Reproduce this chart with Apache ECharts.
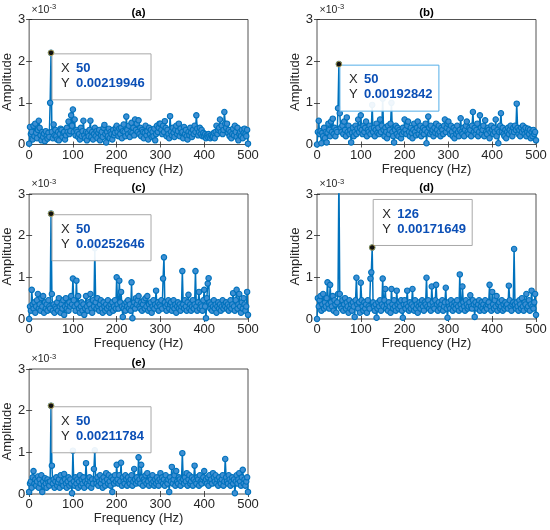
<!DOCTYPE html>
<html><head><meta charset="utf-8">
<script src="https://cdn.jsdelivr.net/npm/echarts@6/dist/echarts.min.js"></script>
<style>html,body{margin:0;padding:0;background:#fff}#c{width:550px;height:530px}</style>
</head><body><div id="c"></div>
<script>
// ---------------- DATA ----------------
const freqStepHz = 2;           // spectrum resolution, points at 0,2,4,...,500 Hz
const xTicks = [0, 100, 200, 300, 400, 500];
const yTicks = [0, 1, 2, 3];    // in units of 1e-3
const panelTitles = ['(a)', '(b)', '(c)', '(d)', '(e)'];
const xAxisName = 'Frequency (Hz)';
const yAxisName = 'Amplitude';

// amplitudes in units of 1e-3
const ampA = [
0.02,0.42,0.25,0.30,0.12,0.45,0.20,0.50,0.28,0.15,0.35,0.57,0.40,0.22,0.10,0.30,0.18,0.26,0.08,0.32,0.20,0.14,0.28,0.18,1.00,
2.20,0.30,0.15,0.48,0.22,0.35,0.20,0.12,0.30,0.10,0.25,0.38,0.35,0.18,0.28,0.30,0.12,0.22,0.40,0.30,0.55,0.25,0.32,0.70,0.45,
0.84,0.30,0.60,0.22,0.35,0.30,0.18,0.25,0.12,0.40,0.20,0.32,0.57,0.22,0.15,0.30,0.10,0.28,0.20,0.35,0.57,0.18,0.30,0.12,0.25,
0.40,0.20,0.32,0.15,0.28,0.35,0.10,0.22,0.30,0.18,0.40,0.47,0.25,0.05,0.30,0.20,0.38,0.15,0.30,0.25,0.12,0.35,0.22,0.28,0.40,
0.45,0.30,0.20,0.38,0.25,0.40,0.15,0.32,0.48,0.30,0.20,0.67,0.35,0.25,0.45,0.18,0.30,0.52,0.28,0.40,0.22,0.60,0.35,0.50,0.30,
0.58,0.25,0.40,0.20,0.35,0.30,0.15,0.28,0.45,0.22,0.32,0.12,0.40,0.25,0.35,0.18,0.30,0.20,0.38,0.10,0.25,0.45,0.30,0.40,0.50,
0.50,0.35,0.25,0.45,0.30,0.56,0.40,0.20,0.35,0.25,0.15,0.68,0.30,0.22,0.40,0.28,0.18,0.35,0.45,0.25,0.32,0.50,0.20,0.38,0.28,
0.30,0.15,0.42,0.25,0.35,0.20,0.12,0.30,0.22,0.40,0.28,0.18,0.35,0.25,0.45,0.30,0.70,0.38,0.22,0.30,0.40,0.25,0.35,0.20,0.28,
0.20,0.25,0.15,0.22,0.18,0.25,0.20,0.15,0.22,0.18,0.20,0.28,0.15,0.30,0.45,0.25,0.35,0.40,0.60,0.30,0.45,0.25,0.35,0.78,0.50,
0.40,0.50,0.28,0.35,0.20,0.30,0.15,0.25,0.38,0.22,0.45,0.30,0.18,0.40,0.10,0.25,0.30,0.20,0.35,0.15,0.28,0.38,0.25,0.20,0.35,
0.02];
const ampB = [
0.00,0.30,0.57,0.25,0.32,0.03,0.28,0.20,0.40,0.15,0.30,0.05,0.28,0.50,0.35,0.20,0.55,0.30,0.62,0.25,0.40,0.20,0.35,0.30,0.87,
1.93,0.75,0.40,0.30,0.45,0.25,0.55,0.35,0.20,0.65,0.30,0.45,0.25,0.35,0.05,0.28,0.40,0.20,0.30,0.45,0.25,0.38,0.60,0.30,0.40,
0.70,0.35,0.25,0.45,0.30,0.40,0.55,0.20,0.35,0.30,0.45,0.25,0.38,0.95,0.30,0.40,0.20,0.35,0.50,0.28,0.40,0.25,0.60,0.30,0.45,
1.10,0.35,0.20,0.40,0.30,0.15,0.45,0.25,0.35,0.50,1.00,0.30,0.20,0.05,0.35,0.45,0.25,0.40,0.20,0.35,0.30,0.15,0.25,0.40,0.30,
0.60,0.35,0.25,0.45,0.55,0.30,0.20,0.40,0.28,0.15,0.35,0.50,0.30,0.22,0.40,0.55,0.25,0.35,0.45,0.20,0.30,0.40,0.25,0.35,0.50,
0.03,0.30,0.67,0.40,0.25,0.45,0.30,0.35,0.20,0.40,0.28,0.50,0.35,0.25,0.45,0.30,0.20,0.40,0.35,0.25,0.45,0.60,0.30,0.40,0.50,
0.55,0.35,0.25,0.45,0.30,0.20,0.40,0.15,0.35,0.25,0.45,0.30,0.20,0.35,0.63,0.30,0.25,0.40,0.20,0.35,0.45,0.55,0.30,0.25,0.40,
0.35,0.20,0.45,0.78,0.30,0.40,0.25,0.35,0.50,0.20,0.30,0.70,0.40,0.25,0.35,0.45,0.20,0.58,0.30,0.25,0.40,0.35,0.15,0.30,0.45,
0.35,0.25,0.40,0.30,0.60,0.20,0.35,0.03,0.30,0.45,0.75,0.30,0.40,0.25,0.20,0.35,0.15,0.30,0.40,0.25,0.35,0.45,0.30,0.20,0.40,
0.30,0.45,0.35,0.98,0.40,0.25,0.35,0.20,0.40,0.30,0.45,0.35,0.25,0.40,0.20,0.30,0.38,0.25,0.35,0.15,0.30,0.20,0.35,0.25,0.30,
0.10];
const ampC = [
0.00,0.30,0.20,0.70,0.35,0.25,0.40,0.15,0.30,0.45,0.60,0.25,0.35,0.20,0.50,0.30,0.55,0.15,0.40,0.25,0.35,0.20,0.45,0.30,0.25,
2.53,0.60,0.20,0.35,0.15,0.30,0.25,0.40,0.20,0.50,0.30,0.15,0.35,0.25,0.45,0.10,0.30,0.50,0.25,0.35,0.20,0.40,0.30,0.55,0.35,
0.97,0.45,0.30,0.20,0.92,0.35,0.55,0.25,0.15,0.30,0.40,0.20,0.35,0.10,0.25,0.55,0.30,0.20,0.40,0.35,0.60,0.25,0.15,0.45,0.30,
1.70,0.40,0.25,0.50,0.30,0.20,0.35,0.45,0.25,0.15,0.40,0.30,0.20,0.35,0.25,0.45,0.30,0.15,0.35,0.25,0.40,0.20,0.30,0.45,0.25,
1.00,0.35,0.25,0.92,0.40,0.65,0.30,0.05,0.25,0.35,0.20,0.40,0.30,0.45,0.25,0.35,0.20,0.88,0.02,0.30,0.40,0.25,0.50,0.35,0.45,
0.55,0.30,0.25,0.40,0.20,0.35,0.45,0.25,0.50,0.30,0.55,0.20,0.35,0.25,0.40,0.15,0.30,0.45,0.25,0.35,0.68,0.30,0.40,0.20,0.35,
0.30,0.45,0.25,0.97,1.48,0.40,0.30,0.20,0.35,0.45,0.25,0.35,0.40,0.20,0.30,0.45,0.25,0.35,0.15,0.30,0.40,0.25,0.35,0.20,0.30,
1.15,0.35,0.25,0.45,0.30,0.20,0.40,0.58,0.25,0.35,0.20,0.30,0.45,0.25,0.35,1.15,0.30,0.20,0.40,0.65,0.25,0.35,0.30,0.20,0.45,
0.70,0.30,0.02,0.50,0.85,0.98,0.40,0.25,0.35,0.20,0.30,0.45,0.25,0.35,0.15,0.30,0.40,0.25,0.35,0.20,0.30,0.45,0.25,0.35,0.30,
0.40,0.25,0.35,0.20,0.30,0.45,0.25,0.35,0.62,0.30,0.20,0.45,0.70,0.25,0.35,0.60,0.30,0.15,0.40,0.25,0.50,0.35,0.20,0.30,0.65,
0.10];
const ampD = [
0.00,0.50,0.30,0.45,0.55,0.20,0.35,0.60,0.25,0.40,0.30,0.50,0.88,0.35,0.25,0.82,0.40,0.30,0.55,0.20,0.45,0.35,0.15,0.40,0.60,
3.50,0.60,0.30,0.25,0.45,0.20,0.35,0.50,0.25,0.40,0.30,0.15,0.45,0.25,0.35,0.20,0.40,0.30,0.05,0.45,0.99,0.35,0.25,0.40,0.15,
0.87,0.45,0.30,0.20,0.40,0.25,0.35,0.15,0.45,0.30,0.25,0.97,1.12,1.71649,0.40,0.30,0.20,0.35,0.03,0.25,0.40,0.30,0.45,0.20,0.35,
0.97,0.30,0.45,0.72,0.25,0.35,0.20,0.40,0.30,0.15,0.72,0.35,0.25,0.45,0.30,0.20,0.68,0.35,0.25,0.40,0.30,0.45,0.20,0.03,0.35,
0.45,0.25,0.35,0.68,0.30,0.20,0.40,0.25,0.35,0.72,0.30,0.20,0.45,0.25,0.35,0.15,0.30,0.40,0.25,0.35,0.45,0.30,0.20,0.40,0.35,
0.99,0.30,0.45,0.25,0.35,0.20,0.78,0.40,0.30,0.25,0.45,0.82,0.35,0.20,0.40,0.30,0.25,0.35,0.45,0.20,0.30,0.40,0.75,0.25,0.03,
0.40,0.30,0.25,0.45,0.35,0.20,0.30,0.40,0.25,0.35,0.45,0.30,0.20,1.07,0.35,0.25,0.78,0.40,0.30,0.20,0.45,0.35,0.25,0.30,0.40,
0.57,0.30,0.25,0.45,0.35,0.05,0.40,0.30,0.25,0.35,0.45,0.20,0.30,0.40,0.25,0.35,0.20,0.45,0.30,0.25,0.35,0.40,0.82,0.30,0.20,
0.65,0.35,0.25,0.45,0.30,0.55,0.20,0.35,0.40,0.25,0.30,0.45,0.20,0.35,0.25,0.40,0.30,0.35,0.25,0.80,0.45,0.30,0.20,0.35,0.40,
1.68,0.35,0.25,0.40,0.30,0.20,0.45,0.35,0.25,0.50,0.30,0.20,0.40,0.35,0.60,0.25,0.30,0.45,0.20,0.35,0.68,0.30,0.25,0.40,0.60,
0.10];
const ampE = [
0.05,0.25,0.30,0.15,0.40,0.55,0.25,0.35,0.20,0.30,0.42,0.15,0.35,0.25,0.45,0.05,0.30,0.20,0.38,0.25,0.15,0.35,0.28,0.20,0.30,
2.12,0.68,0.25,0.35,0.15,0.30,0.40,0.20,0.28,0.35,0.15,0.45,0.25,0.30,0.20,0.48,0.35,0.25,0.15,0.30,0.40,0.20,0.35,0.25,0.02,
1.04,0.30,0.20,0.40,0.25,0.35,0.15,0.30,0.45,0.20,0.35,0.25,0.40,0.15,0.30,0.74,0.25,0.35,0.20,0.40,0.30,0.15,0.35,0.25,0.60,
1.05,0.35,0.25,0.40,0.20,0.30,0.45,0.25,0.35,0.15,0.40,0.30,0.20,0.50,0.35,0.25,0.45,0.30,0.20,0.40,0.05,0.35,0.25,0.45,0.30,
0.70,0.35,0.25,0.45,0.30,0.75,0.20,0.40,0.30,0.25,0.45,0.35,0.20,0.40,0.30,0.25,0.35,0.45,0.20,0.30,0.60,0.35,0.25,0.40,0.30,
0.88,0.35,0.25,0.70,0.40,0.20,0.35,0.30,0.45,0.25,0.50,0.30,0.20,0.40,0.35,0.25,0.45,0.30,0.20,0.35,0.25,0.40,0.30,0.20,0.35,
0.50,0.30,0.40,0.25,0.35,0.20,0.45,0.30,0.25,0.35,0.05,0.40,0.30,0.65,0.25,0.35,0.45,0.20,0.55,0.30,0.25,0.40,0.35,0.20,0.30,
0.98,0.35,0.25,0.40,0.30,0.50,0.20,0.35,0.45,0.25,0.30,0.40,0.20,0.35,0.68,0.30,0.25,0.40,0.35,0.20,0.45,0.30,0.25,0.35,0.40,
0.55,0.30,0.35,0.25,0.40,0.20,0.45,0.30,0.35,0.25,0.50,0.40,0.30,0.45,0.25,0.35,0.20,0.40,0.30,0.25,0.35,0.45,0.20,0.30,0.84,
0.40,0.30,0.25,0.45,0.35,0.20,0.30,0.40,0.25,0.35,0.02,0.30,0.45,0.25,0.35,0.50,0.30,0.20,0.40,0.58,0.25,0.35,0.20,0.30,0.40,
0.05];

// data tips
const tipX = [50, 50, 50, 126, 50];
const tipY = [0.00219946, 0.00192842, 0.00252646, 0.00171649, 0.00211784];

// ---------------- LAYOUT ----------------
const FONT = '"Liberation Sans", Arial, Helvetica, sans-serif';
const AX = '#262626';
const LINE = '#0072BD';
const VAL = '#0b4fb6';
const W = 219, H = 125;
const panels = [
  { left: 29,  top: 19.5, data: ampA, tipAbove: false, tipBorder: '#a8a8a8' },
  { left: 317, top: 19.5, data: ampB, tipAbove: false, tipBorder: '#55aee8' },
  { left: 29,  top: 194,  data: ampC, tipAbove: false, tipBorder: '#a8a8a8' },
  { left: 317, top: 194,  data: ampD, tipAbove: true,  tipBorder: '#a8a8a8' },
  { left: 29,  top: 369,  data: ampE, tipAbove: false, tipBorder: '#a8a8a8' }
];

const chart = echarts.init(document.getElementById('c'), null, { renderer: 'canvas' });
const grid = [], xAxis = [], yAxis = [], series = [];
const xMin = xTicks[0], xMax = xTicks[xTicks.length - 1], xInt = xTicks[1] - xTicks[0];
const yMin = yTicks[0], yMax = yTicks[yTicks.length - 1], yInt = yTicks[1] - yTicks[0];
const tick = { inside: true, length: 3, lineStyle: { color: AX, width: 0.8 } };
const lab = { fontSize: 13, color: AX, fontFamily: FONT };

panels.forEach((p, i) => {
  grid.push({ left: p.left, top: p.top, width: W, height: H, show: true,
    borderColor: AX, borderWidth: 0.8, backgroundColor: '#fff' });
  xAxis.push({ type: 'value', gridIndex: i, min: xMin, max: xMax, interval: xInt, position: 'bottom',
    name: xAxisName, nameLocation: 'middle', nameGap: 18,
    nameTextStyle: { fontSize: 13, color: AX, fontFamily: FONT },
    axisLine: { show: false }, axisTick: tick, splitLine: { show: false },
    axisLabel: Object.assign({ margin: 4, showMinLabel: true, showMaxLabel: true }, lab) });
  yAxis.push({ type: 'value', gridIndex: i, min: yMin, max: yMax, interval: yInt, position: 'left',
    name: yAxisName, nameLocation: 'middle', nameGap: 12,
    nameTextStyle: { fontSize: 13, color: AX, fontFamily: FONT },
    axisLine: { show: false }, axisTick: tick, splitLine: { show: false },
    axisLabel: Object.assign({ margin: 4, showMinLabel: true, showMaxLabel: true }, lab) });
  series.push({
    type: 'line', xAxisIndex: i, yAxisIndex: i,
    data: p.data.map((v, k) => [k * freqStepHz, v]),
    symbol: 'circle', symbolSize: 5.4, showAllSymbol: true, clip: true,
    lineStyle: { color: LINE, width: 1.5 },
    itemStyle: { color: '#3f8fd2', borderColor: LINE, borderWidth: 1.1 },
    silent: true, animation: false
  });
});
// mirrored axes (top / right) for box ticks
panels.forEach((p, i) => {
  xAxis.push({ type: 'value', gridIndex: i, min: xMin, max: xMax, interval: xInt, position: 'top',
    axisLine: { show: false }, axisTick: tick, axisLabel: { show: false }, splitLine: { show: false } });
  yAxis.push({ type: 'value', gridIndex: i, min: yMin, max: yMax, interval: yInt, position: 'right',
    axisLine: { show: false }, axisTick: tick, axisLabel: { show: false }, splitLine: { show: false } });
});

chart.setOption({ animation: false, backgroundColor: '#fff', grid, xAxis, yAxis, series });

// ---------------- GRAPHICS: titles, exponent, data tips ----------------
const gfx = [];
panels.forEach((p, i) => {
  gfx.push({ type: 'text', x: p.left + W / 2, y: p.top - 6.5, z: 50,
    style: { text: panelTitles[i], font: 'bold 11.5px ' + FONT, fill: '#000',
      align: 'center', verticalAlign: 'middle', textAlign: 'center', textVerticalAlign: 'middle' } });
  gfx.push({ type: 'text', x: p.left + 2.5, y: p.top - 9.5, z: 50,
    style: { text: '×10', font: '10.5px ' + FONT, fill: AX,
      align: 'left', verticalAlign: 'middle', textAlign: 'left', textVerticalAlign: 'middle' } });
  gfx.push({ type: 'text', x: p.left + 20.5, y: p.top - 12.5, z: 50,
    style: { text: '-3', font: '7.5px ' + FONT, fill: AX,
      align: 'left', verticalAlign: 'middle', textAlign: 'left', textVerticalAlign: 'middle' } });

  const pt = chart.convertToPixel({ xAxisIndex: i, yAxisIndex: i }, [tipX[i], tipY[i] * 1000]);
  const bw = 99, bh = 46;
  const bx = pt[0] + 1;
  const by = p.tipAbove ? pt[1] - 2 - bh : pt[1] + 1;
  gfx.push({ type: 'rect', z: 100, shape: { x: bx, y: by, width: bw, height: bh },
    style: { fill: 'rgba(255,255,255,0.92)', stroke: p.tipBorder, lineWidth: 1 } });
  const rows = [['X', String(tipX[i])], ['Y', String(tipY[i])]];
  rows.forEach((r, j) => {
    const ty = by + 14.5 + j * 15;
    gfx.push({ type: 'text', z: 101, x: bx + 9, y: ty,
      style: { text: r[0], font: '13px ' + FONT, fill: AX,
        align: 'left', verticalAlign: 'middle', textAlign: 'left', textVerticalAlign: 'middle' } });
    gfx.push({ type: 'text', z: 101, x: bx + 24, y: ty,
      style: { text: r[1], font: 'bold 13px ' + FONT, fill: VAL,
        align: 'left', verticalAlign: 'middle', textAlign: 'left', textVerticalAlign: 'middle' } });
  });
  gfx.push({ type: 'circle', z: 102, shape: { cx: pt[0], cy: pt[1], r: 2.8 },
    style: { fill: '#111', stroke: '#c9b45a', lineWidth: 0.8 } });
});
chart.setOption({ graphic: gfx });
</script>
</body></html>
